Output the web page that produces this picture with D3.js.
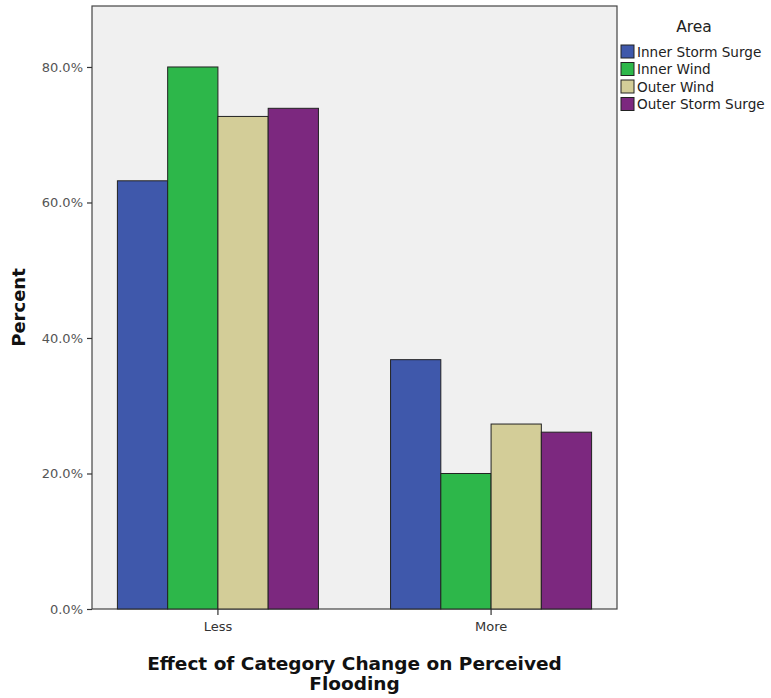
<!DOCTYPE html>
<html><head><meta charset="utf-8">
<script src="https://cdn.jsdelivr.net/npm/d3@7"></script>
<style>body{margin:0;background:#fff}svg{display:block}</style>
</head><body>
<script>
const categories = ["Less", "More"];
const seriesNames = ["Inner Storm Surge", "Inner Wind", "Outer Wind", "Outer Storm Surge"];
const innerStormSurge = [63.2, 36.8];
const innerWind = [80.0, 20.0];
const outerWind = [72.7, 27.3];
const outerStormSurge = [73.9, 26.1];
const yTicks = [0, 20, 40, 60, 80];
const colors = ["#3f58ab", "#2db74a", "#d3cd98", "#7c287f"];

const seriesValues = [innerStormSurge, innerWind, outerWind, outerStormSurge];
const W = 771, H = 698;
const L = 92, R = 617, T = 6, B = 609;
const font = "'DejaVu Sans', sans-serif";

const svg = d3.select("body").append("svg").attr("width", W).attr("height", H);

const x = d3.scaleBand().domain(categories).range([L, R]).paddingInner(0.264).paddingOuter(0.093);
const xs = d3.scaleBand().domain(seriesNames).range([0, x.bandwidth()]);
const y = d3.scaleLinear().domain([0, 89.0]).range([B, T]);

svg.append("rect").attr("x", L).attr("y", T).attr("width", R - L).attr("height", B - T)
  .attr("fill", "#f0f0f0").attr("stroke", "#444").attr("stroke-width", 1.2);

const g = svg.append("g");
categories.forEach((c, ci) => {
  seriesNames.forEach((s, si) => {
    const v = seriesValues[si][ci];
    g.append("rect")
      .attr("x", x(c) + xs(s))
      .attr("y", y(v))
      .attr("width", xs.bandwidth())
      .attr("height", y(0) - y(v))
      .attr("fill", colors[si])
      .attr("stroke", "#222").attr("stroke-width", 1);
  });
});

// y axis
const ya = svg.append("g").attr("transform", `translate(${L},0)`)
  .call(d3.axisLeft(y).tickValues(yTicks).tickFormat(d => d.toFixed(1) + "%").tickSize(5).tickSizeOuter(0).tickPadding(4));
ya.select(".domain").remove();
ya.selectAll(".tick line").attr("stroke", "#333").attr("stroke-width", 1.2);
ya.selectAll(".tick text").attr("fill", "#555").style("font-family", font).style("font-size", "13px");

// x axis
const xa = svg.append("g").attr("transform", `translate(0,${B})`)
  .call(d3.axisBottom(x).tickSize(6).tickSizeOuter(0).tickPadding(7));
xa.select(".domain").remove();
xa.selectAll(".tick line").attr("stroke", "#333").attr("stroke-width", 1.2);
xa.selectAll(".tick text").attr("fill", "#333").style("font-family", font).style("font-size", "13px");

// axis titles
svg.append("text").attr("transform", `translate(25,${(T + B) / 2}) rotate(-90)`)
  .attr("text-anchor", "middle").style("font-family", font).style("font-size", "18px")
  .style("font-weight", "bold").attr("fill", "#111").text("Percent");
const xt = svg.append("text").attr("text-anchor", "middle").style("font-family", font)
  .style("font-size", "18.5px").style("font-weight", "bold").attr("fill", "#111");
xt.append("tspan").attr("x", (L + R) / 2).attr("y", 670).text("Effect of Category Change on Perceived");
xt.append("tspan").attr("x", (L + R) / 2).attr("y", 690).text("Flooding");

// legend
const lg = svg.append("g");
lg.append("text").attr("x", 694).attr("y", 32).attr("text-anchor", "middle")
  .style("font-family", font).style("font-size", "15.5px").attr("fill", "#222").text("Area");
seriesNames.forEach((s, i) => {
  const yy = 45 + i * 17.5;
  lg.append("rect").attr("x", 621).attr("y", yy).attr("width", 13).attr("height", 13)
    .attr("fill", colors[i]).attr("stroke", "#222").attr("stroke-width", 1);
  lg.append("text").attr("x", 637).attr("y", yy + 11.5)
    .style("font-family", font).style("font-size", "13.6px").attr("fill", "#222").text(s);
});
</script>
</body></html>
